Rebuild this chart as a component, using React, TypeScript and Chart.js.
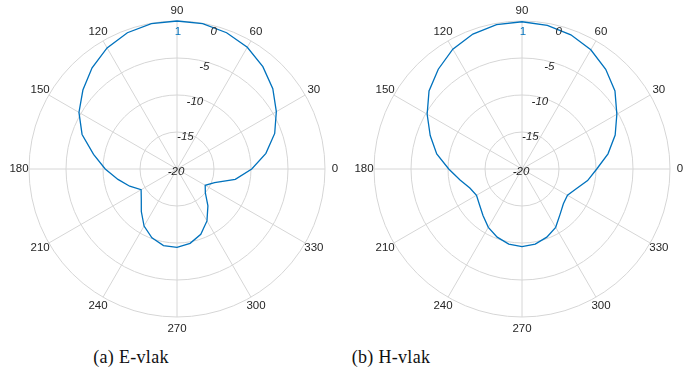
import { useEffect, useRef } from 'react';
import { Chart, registerables } from 'chart.js';

Chart.register(...registerables);

// Sample angles in degrees, counter-clockwise from 0° (east).
const angles = [
  0, 10, 20, 30, 40, 50, 60, 70, 80, 90, 100, 110, 120, 130, 140, 150, 160, 170,
  180, 190, 200, 210, 220, 230, 240, 250, 260, 270, 280, 290, 300, 310, 320, 330, 340, 350,
];

// Normalised radiation pattern in dB, E-plane.
const eVlak = [
  -9.9, -7.8, -5.95, -4.5, -3.1, -1.95, -1.0, -0.4, -0.05, 0, -0.05, -0.4, -1.1, -2.15, -3.4, -4.7, -6.35, -8.55,
  -10.3, -11.9, -13.2, -14.4, -13.7, -12.5, -11.1, -10.1, -9.5, -9.4, -9.8, -10.6, -11.9, -13.5, -15.0, -15.6, -14.6, -12.0,
];

// Normalised radiation pattern in dB, H-plane.
const hVlak = [
  -9.9, -8.2, -6.6, -5.2, -3.6, -2.4, -1.4, -0.7, -0.3, -0.1, -0.2, -0.6, -1.3, -2.4, -3.6, -5.2, -6.8, -8.3,
  -10.1, -11.5, -12.5, -12.9, -12.5, -11.8, -10.9, -10.2, -9.7, -9.5, -9.7, -10.2, -10.9, -12.0, -12.7, -12.9, -12.2, -11.0,
];

const angleTicks = [0, 30, 60, 90, 120, 150, 180, 210, 240, 270, 300, 330];
const radialTicks = [-20, -15, -10, -5, 0];
const rMin = -20;
const rMax = 0;
const peakLabel = '1';
const captions = ['(a) E-vlak', '(b) H-vlak'];

const GRID = '#d6d6d6';
const TEXT = '#262626';
const LINE = '#0072BD';
const SANS = '"Liberation Sans", Arial, Helvetica, sans-serif';

// Chart.js radar starts at the top and runs clockwise; MATLAB-style polar
// axes start east and run counter-clockwise, so index i maps to 90° - 10°·i.
const order = angles.map((_, i) => (90 - 10 * i + 360) % 360);

function polarDecor(values: number[]) {
  return {
    id: 'polarDecor',
    afterDraw(chart: any) {
      const s = chart.scales.r;
      const ctx: CanvasRenderingContext2D = chart.ctx;
      ctx.save();

      // angle labels around the rim
      ctx.font = `11.5px ${SANS}`;
      ctx.fillStyle = TEXT;
      ctx.textAlign = 'center';
      ctx.textBaseline = 'middle';
      order.forEach((deg, i) => {
        if (!angleTicks.includes(deg)) return;
        const extra = deg === 270 ? 1.5 : 0;
        const p = s.getPointPosition(i, s.drawingArea + 10 + extra);
        ctx.fillText(String(deg), p.x, p.y);
      });

      // radial tick labels, laid along a spoke just right of north
      ctx.font = `italic 11.5px ${SANS}`;
      radialTicks.forEach((v) => {
        const r = s.getDistanceFromCenterForValue(v);
        ctx.fillText(String(v), s.xCenter - 1 + 0.255 * r, s.yCenter + 2.7 - 0.944 * r);
      });

      // peak marker under the main-lobe maximum
      const iTop = order.indexOf(90);
      const top = s.getPointPositionForValue(iTop, values[angles.indexOf(90)]);
      ctx.fillStyle = LINE;
      ctx.font = `11.5px ${SANS}`;
      ctx.fillText(peakLabel, top.x + 1, top.y + 10.5);

      ctx.restore();
    },
  };
}

function PolarPattern({ values, left }: { values: number[]; left: number }) {
  const ref = useRef<HTMLCanvasElement | null>(null);

  useEffect(() => {
    if (!ref.current) return;
    const data = order.map((deg) => values[angles.indexOf(deg)]);
    const chart = new Chart(ref.current, {
      type: 'radar',
      data: {
        labels: order.map(String),
        datasets: [
          {
            data,
            borderColor: LINE,
            borderWidth: 1.3,
            backgroundColor: 'rgba(0,0,0,0)',
            fill: false,
            pointRadius: 0,
            pointHoverRadius: 0,
            tension: 0,
          },
        ],
      },
      options: {
        responsive: false,
        animation: false,
        events: [],
        layout: { padding: 22 },
        plugins: { legend: { display: false }, tooltip: { enabled: false } },
        scales: {
          r: {
            min: rMin,
            max: rMax,
            ticks: { display: false, stepSize: 5 },
            pointLabels: { display: false },
            grid: { circular: true, color: GRID, lineWidth: 1 },
            angleLines: {
              display: true,
              color: (c: any) => (angleTicks.includes(Number(c.label)) ? GRID : 'rgba(0,0,0,0)'),
              lineWidth: (c: any) => (angleTicks.includes(Number(c.label)) ? 1 : 0),
            },
          },
        },
      },
      plugins: [polarDecor(values)],
    });
    return () => chart.destroy();
  }, [values]);

  return (
    <canvas
      ref={ref}
      width={340}
      height={340}
      style={{ position: 'absolute', left, top: -1, width: 340, height: 340 }}
    />
  );
}

export default function App() {
  const captionStyle = (cx: number): React.CSSProperties => ({
    position: 'absolute',
    left: cx - 100,
    width: 200,
    top: 347,
    textAlign: 'center',
    fontFamily: '"Liberation Serif", "Times New Roman", serif',
    fontSize: 18,
    lineHeight: '20px',
    letterSpacing: 0.3,
    color: '#111',
    whiteSpace: 'nowrap',
  });

  return (
    <div
      style={{
        position: 'fixed',
        left: 0,
        top: 0,
        width: 695,
        height: 369,
        background: '#fff',
        overflow: 'hidden',
      }}
    >
      <PolarPattern values={eVlak} left={7} />
      <PolarPattern values={hVlak} left={352} />
      <div style={captionStyle(131)}>{captions[0]}</div>
      <div style={captionStyle(391)}>{captions[1]}</div>
    </div>
  );
}
